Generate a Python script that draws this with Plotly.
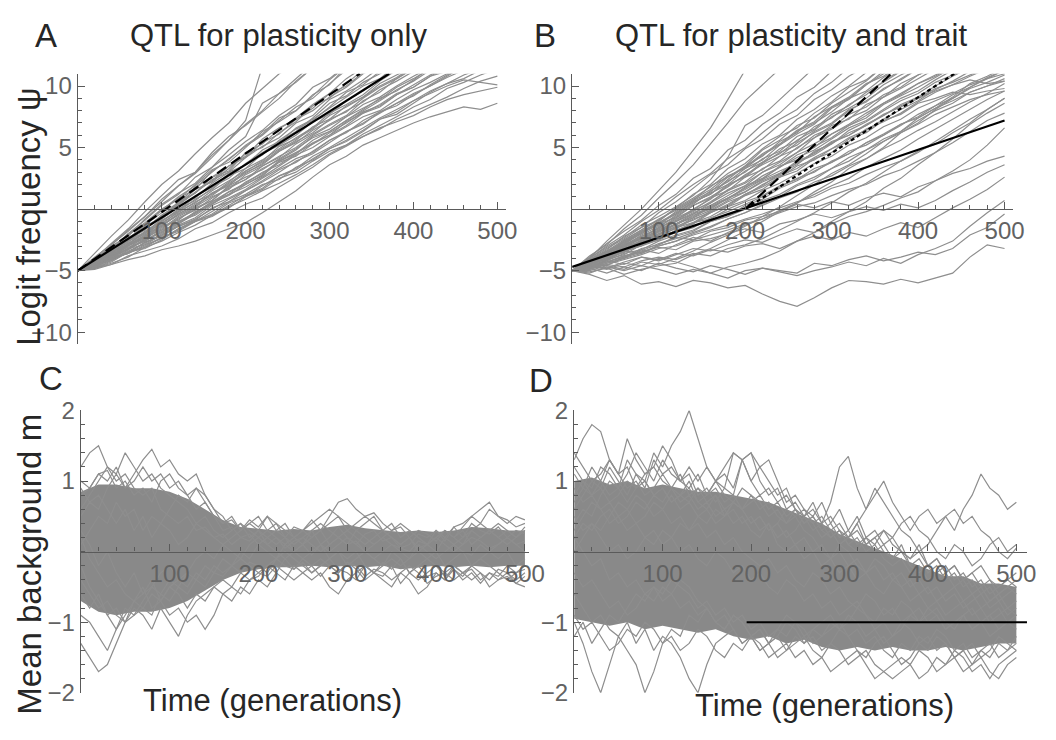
import plotly.graph_objects as go

# ---------------- time grids ----------------
T20 = list(range(0, 501, 20))
T10 = list(range(0, 501, 10))

# ---------------- Panel A: logit frequency, QTL for plasticity only (step 20) ----------------
walks_A = [
    [-5,-4.1,-3.3,-2.0,-0.9,0.3,1.2,2.6,3.4,4.8,5.9,8.6,9.4,10.6,11.8],
    [-5,-4.4,-3.2,-2.6,-1.2,-0.1,0.9,1.6,3.1,4.0,5.2,6.1,7.4,8.0,9.3,10.1,11.6],
    [-5,-4.0,-2.8,-1.6,-0.2,1.1,2.4,3.0,4.6,5.9,6.8,7.9,9.0,10.4,11.5],
    [-5,-4.6,-3.9,-3.0,-2.2,-1.0,-0.1,1.0,1.8,2.5,3.7,4.6,5.4,6.6,7.3,8.2,9.1,10.0,10.6,11.7],
    [-5,-4.3,-3.6,-2.5,-1.9,-0.8,0.2,0.9,2.1,3.0,3.6,4.8,5.5,6.3,7.4,8.6,9.2,10.3,11.0,11.8],
    [-5,-4.7,-4.1,-3.4,-2.8,-2.0,-1.2,-0.4,0.5,1.1,2.0,2.7,3.9,4.6,5.3,6.2,7.0,7.9,8.4,9.3,10.1,10.9,11.6],
    [-5,-4.5,-3.7,-3.3,-2.4,-1.6,-0.6,0.1,0.7,1.9,2.6,3.2,4.1,4.9,5.8,6.3,7.2,8.1,9.0,9.6,10.5,11.5],
    [-5,-4.8,-4.4,-3.9,-3.1,-2.6,-1.9,-1.3,-0.5,0.1,1.0,1.6,2.5,3.0,3.9,4.7,5.2,6.1,6.8,7.5,8.3,8.9,9.8,10.3,10.9,11.4],
    [-5,-4.6,-4.0,-3.6,-3.0,-2.3,-1.7,-1.0,-0.6,0.2,0.8,1.5,2.1,2.8,3.6,4.5,5.2,5.9,6.6,7.1,7.6,8.3,8.9,9.3,9.6,9.9],
    [-5,-4.8,-4.5,-4.1,-3.8,-3.3,-3.0,-2.6,-2.1,-1.6,-1.1,-0.3,0.6,1.5,2.6,3.6,4.3,5.2,5.8,6.4,7.0,7.5,7.9,8.3,8.1,8.6],
    [-5,-4.4,-3.8,-2.9,-2.3,-1.4,-0.9,0.2,1.0,1.6,2.8,3.5,4.2,5.3,6.1,6.9,7.6,8.8,9.5,10.6,11.4],
    [-5,-4.2,-3.5,-2.7,-1.5,-0.6,0.4,1.6,2.2,3.3,4.5,5.0,6.2,7.1,8.4,9.0,10.2,11.3],
    [-5,-4.5,-3.4,-2.1,-1.1,0.0,0.8,2.0,3.2,3.8,5.0,6.3,7.1,8.0,9.2,10.5,11.6],
    [-5,-4.6,-3.8,-3.1,-2.6,-1.8,-1.1,-0.3,0.6,1.4,2.1,3.0,3.6,4.5,5.4,6.0,7.1,7.8,8.5,9.4,9.9,10.8,11.5],
    [-5,-4.8,-4.2,-3.5,-3.2,-2.5,-1.6,-1.0,-0.2,0.6,1.2,2.0,2.4,3.4,4.0,4.9,5.6,6.4,7.3,7.7,8.6,9.5,10.2,10.6,11.3],
    [-5,-4.3,-3.9,-2.8,-1.9,-1.2,-0.2,0.5,1.5,2.3,3.1,3.9,5.1,5.7,6.5,7.6,8.3,9.1,10.0,10.7,11.6],
    [-5,-4.9,-4.5,-3.8,-3.4,-3.0,-2.4,-1.6,-1.1,-0.3,0.4,0.9,1.8,2.6,3.4,4.4,5.1,5.9,6.5,7.3,7.9,8.5,9.1,9.8,10.4,10.8],
    [-5,-4.4,-4.0,-3.2,-2.2,-1.7,-0.7,-0.1,0.9,1.7,2.4,3.3,4.0,4.8,5.9,6.5,7.5,8.2,8.9,9.9,10.6,11.4],
    [-5,-4.6,-3.6,-2.9,-1.8,-1.0,0.0,0.7,1.7,2.9,3.6,4.4,5.6,6.5,7.2,8.3,9.5,10.1,11.2],
    [-5,-4.1,-3.0,-2.2,-0.8,0.4,1.3,2.1,3.4,4.4,5.5,6.4,7.6,8.5,9.9,10.6,11.7],
    [-5,-4.5,-4.1,-3.5,-2.7,-2.1,-1.4,-0.8,0.0,0.8,1.5,2.3,3.2,3.8,4.7,5.6,6.3,7.0,7.8,8.6,9.2,10.1,10.9,11.5],
    [-5,-3.9,-2.9,-1.7,-0.6,0.8,1.9,3.0,4.4,5.6,6.9,8.0,9.4,10.3,11.5],
    [-5,-4.3,-3.1,-2.4,-1.3,-0.3,0.5,1.8,2.6,3.5,4.3,5.7,6.6,7.3,8.2,9.4,10.0,11.1],
    [-5,-4.7,-3.9,-3.2,-2.9,-2.1,-1.3,-0.7,0.3,0.9,1.6,2.5,3.3,4.1,4.6,5.6,6.2,7.2,7.9,8.4,9.3,10.0,10.8,11.6],
    [-5,-4.2,-3.7,-3.0,-2.1,-1.3,-0.4,0.3,1.3,2.0,2.9,3.7,4.7,5.4,6.4,7.2,8.0,8.7,9.7,10.4,11.2],
    [-5,-4.6,-4.2,-3.3,-2.5,-1.9,-1.0,-0.5,0.4,1.2,1.8,2.6,3.5,4.4,5.0,5.9,6.7,7.5,8.0,8.9,9.7,10.3,11.0,11.6],
    [-5,-3.6,-2.2,-0.9,0.6,2.0,3.1,4.5,5.8,7.0,8.6,9.8,11.0,11.8],
    [-5,-4.4,-3.3,-2.5,-1.7,-0.5,0.4,1.3,2.4,3.0,4.2,5.1,5.8,7.0,7.6,8.9,9.6,10.5,11.5],
    [-5,-4.8,-4.0,-3.6,-2.9,-2.4,-1.6,-0.9,-0.5,0.3,1.1,1.7,2.7,3.2,4.1,4.9,5.5,6.3,7.3,7.9,8.8,9.4,10.0,10.5,10.3,10.1],
    [-5,-4.5,-3.5,-2.8,-2.0,-1.1,-0.3,0.6,1.2,2.2,3.3,4.0,4.9,5.8,6.6,7.8,8.5,9.3,10.4,11.3],
    [-5,-4.2,-2.9,-1.8,-0.6,0.6,1.9,2.9,4.2,5.6,7.2,11.6],
    [-5,-4.5,-3.9,-3.2,-2.5,-1.9,-1.0,-0.3,0.6,1.2,2.2,2.9,3.9,4.5,5.6,6.3,7.2,8.0,8.8,9.7,10.4,11.3],
    [-5,-4.2,-3.4,-2.3,-1.6,-0.5,0.3,1.4,2.3,3.5,4.2,5.4,6.1,7.3,8.0,9.1,9.9,11.0,11.7],
    [-5,-4.7,-4.0,-3.6,-2.7,-2.2,-1.4,-0.9,0.1,0.6,1.5,2.2,3.0,3.9,4.5,5.4,6.3,6.9,7.9,8.6,9.4,10.0,10.7,11.3],
    [-5,-4.4,-3.6,-2.6,-2.0,-0.9,-0.2,0.8,1.6,2.7,3.3,4.5,5.2,6.0,7.1,7.7,8.8,9.6,10.5,11.4],
    [-5,-4.6,-3.5,-2.9,-2.1,-1.4,-0.4,0.4,1.1,2.1,3.0,3.6,4.7,5.5,6.2,7.3,7.9,9.0,9.9,10.6,11.5],
    [-5,-4.3,-3.8,-3.0,-2.4,-1.5,-0.8,0.0,0.7,1.8,2.4,3.5,4.3,5.0,6.0,6.8,7.5,8.5,9.1,10.0,10.8,11.5],
    [-5,-4.0,-3.2,-2.0,-1.2,-0.1,1.0,1.9,3.0,4.1,5.1,6.0,7.2,8.3,9.0,10.2,11.3],
    [-5,-4.8,-4.3,-3.5,-3.1,-2.3,-1.8,-1.0,-0.4,0.5,1.0,1.9,2.7,3.3,4.3,5.0,5.8,6.6,7.4,8.1,8.8,9.6,10.2,10.9,11.4],
    [-5,-4.5,-3.7,-2.8,-2.3,-1.3,-0.5,0.2,1.3,1.9,3.1,3.8,4.8,5.6,6.7,7.3,8.4,9.1,10.2,10.9,11.6],
    [-5,-4.1,-3.5,-2.4,-1.4,-0.7,0.6,1.3,2.6,3.1,4.6,5.3,6.5,7.4,8.5,9.4,10.6,11.5],
    [-5,-4.6,-4.1,-3.2,-2.6,-1.7,-1.2,-0.2,0.4,1.4,2.0,2.8,3.8,4.3,5.3,6.0,6.8,7.8,8.3,9.3,9.9,10.8,11.2,11.7],
]
# theory lines A (endpoints)
A_solid_t = [0, 371]
A_solid_y = [-5, 11]
A_dash_t = [0, 336]
A_dash_y = [-5, 11]

# ---------------- Panel B: logit frequency, QTL for plasticity and trait (step 20) ----------------
walks_B = [
    [-5,-5.3,-5.8,-5.4,-6.1,-5.9,-6.3,-5.8,-6.0,-6.4,-6.2,-6.9,-7.5,-7.9,-7.2,-6.4,-5.8,-5.9,-6.1,-5.7,-6.0,-5.6,-5.2,-3.9,-2.9,-3.2],
    [-5,-4.8,-5.2,-4.7,-5.0,-4.4,-4.8,-5.1,-4.6,-4.9,-5.3,-4.8,-5.0,-5.2,-4.4,-4.6,-4.1,-3.8,-4.2,-3.9,-3.5,-3.7,-3.2,-2.1,-1.5,-0.4],
    [-5,-4.6,-4.2,-4.5,-3.9,-4.1,-3.6,-3.8,-3.3,-3.5,-3.0,-2.8,-3.2,-2.6,-2.2,-2.5,-1.9,-2.2,-1.6,-1.1,-1.5,-0.7,0.1,0.8,1.6,2.6],
    [-5,-4.4,-4.6,-3.9,-3.5,-3.1,-3.3,-2.6,-2.4,-2.0,-1.6,-1.9,-1.2,-0.9,-0.4,-0.7,-0.2,0.2,-0.1,0.4,0.1,0.7,1.5,2.2,3.0,3.6],
    [-5,-4.2,-3.8,-3.4,-3.6,-2.9,-2.3,-2.5,-1.8,-1.5,-0.9,-0.6,-0.2,0.4,0.1,0.6,0.3,0.9,1.3,1.0,1.8,2.3,2.9,3.3,3.9,4.3],
    [-5,-4.5,-3.6,-2.8,-2.0,-1.1,-0.3,0.6,1.2,2.4,3.5,4.8,5.6,6.8,7.4,8.6,9.5,10.4,11.6],
    [-5,-4.0,-3.1,-2.3,-1.3,-0.6,0.2,1.1,2.4,4.2,6.8,7.6,8.9,10.2,11.5],
    [-5,-4.7,-4.1,-3.2,-2.6,-1.8,-1.0,-0.4,0.5,1.3,1.9,3.0,3.8,4.6,5.8,6.5,7.4,8.0,9.1,9.8,10.6,11.4],
    [-5,-4.3,-3.9,-3.5,-2.7,-2.2,-1.8,-1.1,-0.8,0.0,0.6,1.1,1.9,2.4,3.3,3.8,4.7,5.2,6.0,6.9,7.4,8.2,8.8,9.5,10.0,10.4],
    [-5,-4.9,-4.5,-4.7,-4.2,-3.9,-4.1,-3.6,-3.8,-3.2,-2.9,-2.4,-1.7,-1.0,-0.3,0.5,1.4,2.1,3.0,3.9,4.6,5.5,6.4,7.3,8.1,9.0],
    [-5,-4.1,-3.4,-2.5,-1.7,-0.8,-0.1,0.7,1.9,2.6,3.4,4.5,5.3,6.4,7.1,8.3,9.0,10.1,11.2],
    [-5,-4.6,-4.8,-4.3,-3.9,-4.2,-3.7,-3.2,-3.4,-2.9,-2.5,-2.7,-2.1,-1.6,-1.9,-1.2,-0.6,-0.2,0.3,0.9,1.4,2.3,3.1,4.0,5.2,6.6],
    [-5,-4.4,-3.7,-3.1,-2.4,-1.9,-1.2,-0.4,0.1,0.9,1.6,2.4,3.1,3.7,4.6,5.4,6.0,6.8,7.7,8.3,9.0,9.8,10.3,10.9,11.5],
    [-5,-4.2,-3.5,-2.6,-1.9,-1.0,0.1,0.9,1.8,2.9,3.7,4.9,5.9,6.6,7.8,8.7,9.9,10.5,11.6],
    [-5,-4.8,-4.4,-4.0,-3.3,-3.6,-2.9,-2.3,-2.6,-1.9,-1.3,-0.8,-0.1,0.5,1.2,1.9,2.5,3.4,4.1,4.8,5.7,6.5,7.3,8.1,8.9,9.6],
    [-5,-4.5,-3.9,-3.1,-2.3,-1.5,-0.5,0.4,1.5,2.2,3.3,4.0,5.2,6.1,6.9,8.2,8.9,10.1,11.0,11.7],
    [-5,-5.2,-4.7,-5.0,-4.6,-4.9,-5.3,-4.9,-5.2,-4.7,-4.4,-4.0,-3.4,-2.6,-1.9,-1.0,-0.2,0.6,1.7,2.5,3.6,4.6,5.7,6.9,7.8,8.6],
    [-5,-4.3,-3.6,-2.9,-2.2,-1.6,-0.8,-0.2,0.6,1.5,2.1,3.0,3.6,4.6,5.3,6.1,6.9,7.8,8.6,9.4,10.2,10.9,11.6],
    [-5,-4.7,-4.3,-3.8,-3.4,-2.8,-2.4,-1.9,-1.4,-0.8,-0.3,0.3,0.9,1.4,2.2,2.7,3.5,4.1,4.9,5.6,6.4,7.1,7.9,8.7,9.4,10.2],
    [-5,-4.0,-2.6,-1.3,0.0,1.5,3.0,4.8,6.6,8.9,11.3],
    [-5,-4.6,-4.0,-3.5,-2.9,-2.1,-1.6,-0.8,-0.3,0.4,1.2,1.8,2.6,3.5,4.0,4.9,5.8,6.4,7.3,8.1,8.8,9.7,10.4,11.2],
    [-5,-5.1,-4.8,-5.3,-4.9,-4.6,-4.4,-3.7,-3.2,-2.5,-1.8,-1.0,-0.2,0.5,1.4,2.2,3.3,4.1,5.0,6.2,7.0,8.1,9.0,9.9,10.6,11.3],
    [-5,-4.4,-4.1,-3.4,-3.0,-2.5,-1.9,-1.5,-0.7,-0.2,0.4,1.0,1.8,2.5,3.0,3.9,4.5,5.4,6.0,6.8,7.7,8.4,9.3,9.9,10.7,11.3],
    [-5,-4.1,-3.2,-2.4,-1.5,-0.9,0.0,0.8,1.6,2.7,3.3,4.4,5.2,6.3,7.0,7.9,9.0,9.6,10.7,11.5],
    [-5,-4.8,-4.5,-4.1,-3.7,-3.2,-3.0,-2.5,-2.1,-1.7,-1.2,-0.8,-0.3,0.2,0.5,1.1,1.6,2.0,2.7,3.2,3.9,4.6,5.4,6.3,7.2,7.8],
    [-5,-4.3,-3.8,-2.9,-2.4,-1.7,-1.0,-0.3,0.3,1.1,1.9,2.5,3.4,4.2,4.8,5.7,6.6,7.2,8.1,9.0,9.6,10.5,11.3],
    [-5,-4.6,-4.9,-4.4,-4.6,-4.0,-4.3,-4.7,-5.2,-5.6,-5.0,-4.8,-5.1,-5.4,-5.0,-4.7,-4.3,-4.6,-4.0,-4.4,-3.7,-3.2,-2.6,-1.4,-0.3,0.7],
    [-5,-4.2,-3.6,-3.0,-2.1,-1.4,-0.6,0.3,1.0,1.8,2.8,3.6,4.3,5.4,6.2,6.9,8.0,8.8,9.7,10.6,11.4],
    [-5,-4.5,-3.8,-3.3,-2.6,-2.0,-1.4,-0.9,-0.2,0.6,1.1,2.0,2.7,3.3,4.2,4.9,5.5,6.5,7.1,7.8,8.7,9.5,10.1,10.8,11.4],
    [-5,-4.0,-3.0,-2.1,-1.0,-0.1,1.0,2.0,2.9,4.1,5.0,6.2,7.3,8.1,9.4,10.3,11.5],
    [-5,-4.7,-4.2,-3.6,-3.3,-2.6,-2.1,-1.7,-1.0,-0.6,0.0,0.7,1.2,2.0,2.6,3.3,4.2,4.8,5.7,6.3,7.2,8.0,8.6,9.5,10.0,10.6],
    [-5,-4.4,-4.0,-3.3,-2.7,-2.0,-1.5,-0.7,-0.1,0.7,1.4,2.2,2.8,3.8,4.4,5.3,6.2,6.8,7.6,8.5,9.1,10.0,10.8,11.5],
    [-5,-4.6,-4.3,-3.8,-3.5,-3.0,-2.6,-2.1,-1.7,-1.3,-0.8,-0.4,0.1,0.6,1.0,1.7,2.1,2.8,3.4,3.9,4.7,5.3,6.2,7.0,8.1,9.0],
    [-5,-4.3,-3.4,-2.7,-1.8,-1.2,-0.4,0.5,1.3,2.0,3.1,3.8,4.9,5.5,6.7,7.4,8.5,9.3,10.4,11.3],
    [-5,-5.0,-4.6,-4.9,-4.3,-4.5,-4.0,-3.4,-2.7,-2.1,-1.4,-0.6,0.2,1.1,2.0,2.9,3.6,4.5,5.5,6.3,7.4,8.2,9.1,10.2,10.8,11.5],
    [-5,-3.8,-2.9,-1.6,-0.5,0.9,2.2,3.6,5.3,7.0,8.8,10.1,11.4],
    [-5,-4.5,-3.9,-3.0,-2.4,-1.5,-0.9,0.0,0.8,1.9,2.7,3.8,4.5,5.6,6.4,7.5,8.2,9.0,10.1,10.9,11.6],
    [-5,-4.2,-3.3,-2.2,-1.5,-0.3,0.6,1.7,2.8,3.6,4.9,5.7,6.9,7.6,8.9,9.7,10.8,11.6],
    [-5,-4.8,-4.1,-3.7,-2.9,-2.5,-1.7,-1.2,-0.3,0.3,1.2,1.9,2.9,3.6,4.7,5.3,6.4,7.1,8.0,8.8,9.4,10.3,10.9,11.6],
    [-5,-4.4,-3.5,-2.9,-1.9,-1.3,-0.2,0.7,1.4,2.6,3.5,4.3,5.5,6.2,7.5,8.3,9.1,10.2,10.8,11.7],
    [-5,-4.6,-4.2,-3.4,-3.0,-2.2,-1.9,-1.1,-0.6,0.2,0.7,1.5,2.1,2.9,3.7,4.3,5.2,5.8,6.7,7.3,8.2,8.8,9.4,10.1,10.6,11.0],
    [-5,-4.1,-3.6,-2.7,-2.0,-1.2,-0.7,0.3,0.9,2.0,2.6,3.7,4.6,5.2,6.3,7.0,8.1,8.7,9.8,10.5,11.4],
    [-5,-4.7,-3.9,-3.5,-2.6,-2.1,-1.2,-0.7,0.2,0.8,1.8,2.4,3.5,4.0,5.1,5.8,6.8,7.4,8.5,9.2,9.9,10.7,11.5],
    [-5,-4.3,-3.8,-3.1,-2.6,-1.8,-1.3,-0.5,0.0,0.9,1.4,2.3,2.9,3.9,4.5,5.5,6.0,6.9,7.6,8.4,9.0,9.6,10.1,10.5,10.2,10.4],
    [-5,-3.9,-2.8,-1.8,-0.9,0.3,1.2,2.5,3.3,4.8,5.6,6.9,7.8,9.1,9.9,11.2],
    [-5,-4.5,-4.0,-3.2,-2.8,-2.3,-1.5,-1.1,-0.2,0.2,1.1,1.6,2.6,3.1,4.1,4.6,5.7,6.2,7.2,7.7,8.6,9.0,9.5,9.3,9.6,9.8],
    [-5,-4.6,-3.7,-3.1,-2.2,-1.6,-0.7,-0.1,0.9,1.5,2.6,3.2,4.3,4.9,6.0,6.6,7.7,8.3,9.3,9.9,10.9,11.5],
    [-5,-4.2,-3.5,-2.8,-1.8,-1.1,-0.4,0.6,1.2,2.3,3.0,4.1,4.7,5.9,6.5,7.7,8.4,9.5,10.3,11.2],
    [-5,-4.8,-4.3,-3.9,-3.2,-2.9,-2.2,-1.8,-1.0,-0.6,0.3,0.8,1.7,2.3,3.1,3.8,4.5,5.4,6.1,6.9,7.5,8.4,9.0,9.8,10.3,10.9],
    [-5,-4.4,-3.7,-2.6,-1.7,-0.9,0.1,1.2,2.0,3.3,4.1,5.3,6.0,7.3,8.1,9.2,10.0,11.1],
    [-5,-4.9,-4.4,-4.0,-3.6,-3.0,-2.6,-2.0,-1.5,-0.8,-0.3,0.4,1.0,1.9,2.4,3.3,3.9,4.8,5.5,6.2,6.9,7.7,8.3,8.9,9.3,9.6],
    [-5,-4.3,-3.9,-3.0,-2.7,-1.8,-1.2,-0.6,0.3,0.9,1.7,2.7,3.4,4.4,5.0,6.1,6.8,7.6,8.6,9.3,10.2,10.8,11.6],
    [-5,-4.6,-3.8,-3.3,-2.5,-1.7,-1.0,-0.1,0.5,1.6,2.2,3.3,3.9,5.0,5.8,6.8,7.3,8.5,9.1,10.2,10.9,11.6],
]
B_solid_t = [0, 500]
B_solid_y = [-4.7, 7.2]
B_dash_t = [200, 369]
B_dash_y = [0, 11]
B_dot_t = [200, 442]
B_dot_y = [0, 11]

# ---------------- Panel C: mean background m ----------------
C_core_hi = [0.85,0.95,0.95,0.9,0.9,0.85,0.75,0.6,0.45,0.35,0.32,0.3,0.32,0.3,0.35,0.38,0.33,0.3,0.28,0.3,0.28,0.3,0.35,0.33,0.3,0.3]
C_core_lo = [-0.7,-0.85,-0.9,-0.85,-0.85,-0.8,-0.7,-0.55,-0.4,-0.3,-0.25,-0.22,-0.22,-0.2,-0.22,-0.2,-0.22,-0.2,-0.25,-0.22,-0.2,-0.22,-0.2,-0.22,-0.2,-0.2]
walks_C = [
    [1.2,1.4,1.5,1.2,1.0,1.1,0.9,0.8,0.9,0.6,0.5,0.4,0.5,0.3,0.35,0.2,0.25,0.1,0.2,0.15,0.3,0.1,0.2,0.05,0.15,0.2,0.3,0.1,0.2,0.35,0.2,0.1,0.25,0.3,0.15,0.2,0.05,0.1,0.25,0.2,0.3,0.15,0.35,0.2,0.4,0.3,0.25,0.35,0.2,0.3,0.25],
    [0.8,0.9,1.1,1.0,1.2,0.9,1.1,1.3,1.45,1.2,1.3,1.1,1.0,1.1,0.8,0.6,0.4,0.45,0.3,0.45,0.35,0.5,0.3,0.4,0.2,0.3,0.45,0.3,0.5,0.7,0.75,0.6,0.5,0.55,0.4,0.3,0.35,0.2,0.3,0.25,0.15,0.3,0.2,0.35,0.5,0.6,0.7,0.5,0.45,0.35,0.4],
    [-1.3,-1.5,-1.7,-1.6,-1.3,-1.0,-0.9,-0.8,-0.9,-0.6,-0.7,-0.5,-0.6,-0.4,-0.5,-0.3,-0.35,-0.2,-0.3,-0.15,-0.2,-0.3,-0.1,-0.2,-0.25,-0.1,-0.2,-0.35,-0.2,-0.3,-0.15,-0.25,-0.4,-0.3,-0.35,-0.2,-0.45,-0.3,-0.2,-0.35,-0.3,-0.4,-0.25,-0.35,-0.2,-0.3,-0.4,-0.25,-0.3,-0.45,-0.35],
    [-0.4,-0.6,-0.8,-0.7,-0.9,-1.0,-0.8,-0.9,-1.1,-0.8,-1.0,-1.2,-0.9,-0.7,-0.6,-0.5,-0.4,-0.5,-0.3,-0.4,-0.35,-0.2,-0.3,-0.1,-0.25,-0.15,-0.3,-0.2,-0.1,-0.25,-0.3,-0.4,-0.2,-0.3,-0.15,-0.25,-0.1,-0.3,-0.4,-0.3,-0.2,-0.35,-0.25,-0.4,-0.3,-0.45,-0.3,-0.4,-0.35,-0.45,-0.5],
    [0.2,-0.1,-0.3,-0.5,-0.4,-0.6,-0.7,-0.5,-0.8,-0.7,-0.9,-0.8,-1.0,-0.9,-1.1,-0.9,-0.6,-0.5,-0.6,-0.4,-0.3,-0.35,-0.2,-0.3,-0.4,-0.3,-0.2,-0.1,-0.2,-0.3,-0.15,-0.2,-0.35,-0.25,-0.3,-0.4,-0.3,-0.2,-0.3,-0.45,-0.35,-0.3,-0.2,-0.3,-0.25,-0.4,-0.3,-0.35,-0.2,-0.3,-0.25],
    [0.6,0.8,1.0,1.2,1.1,1.4,1.2,1.0,1.1,0.9,0.8,0.7,0.6,0.4,0.5,0.3,0.2,0.3,0.4,0.2,0.3,0.5,0.4,0.3,0.2,0.1,0.2,0.3,0.4,0.5,0.3,0.2,0.1,0.2,0.3,0.2,0.1,0.2,0.05,0.1,0.2,0.3,0.2,0.3,0.1,0.2,0.3,0.4,0.3,0.2,0.3],
    [1.0,0.9,1.1,1.15,0.9,1.0,0.8,0.9,0.7,1.0,1.1,0.9,0.8,0.9,0.7,0.5,0.3,0.35,0.2,0.25,0.1,0.2,0.3,0.2,0.1,0.2,0.1,0.0,0.1,0.2,0.1,0.15,0.0,0.1,0.2,0.1,0.05,0.0,0.15,0.1,0.2,0.1,0.0,0.1,0.2,0.15,0.05,0.1,0.2,0.1,0.15],
    [-0.9,-1.0,-1.2,-1.4,-1.1,-0.8,-0.9,-0.7,-0.5,-0.6,-0.4,-0.5,-0.3,-0.4,-0.2,-0.3,-0.1,-0.2,0.0,-0.1,0.1,0.0,-0.1,0.1,0.0,-0.1,0.0,0.1,-0.1,0.0,-0.2,-0.1,0.0,-0.1,-0.2,0.0,-0.1,-0.3,-0.2,-0.1,0.0,-0.2,-0.1,0.0,-0.2,-0.1,0.0,-0.1,0.0,-0.2,-0.1],
    [0.3,0.1,-0.2,0.0,-0.3,-0.5,-0.3,-0.6,-0.4,-0.7,-0.5,-0.6,-0.8,-0.6,-0.7,-0.5,-0.6,-0.7,-0.5,-0.6,-0.4,-0.5,-0.3,-0.4,-0.2,-0.3,-0.4,-0.3,-0.5,-0.6,-0.4,-0.3,-0.2,-0.3,-0.4,-0.5,-0.3,-0.4,-0.6,-0.5,-0.3,-0.4,-0.2,-0.3,-0.4,-0.3,-0.5,-0.4,-0.3,-0.4,-0.3],
    [0.5,0.7,0.6,0.9,1.1,0.9,1.0,1.2,1.0,1.1,0.9,1.0,0.8,0.6,0.7,0.5,0.4,0.5,0.3,0.4,0.5,0.3,0.4,0.2,0.35,0.3,0.4,0.5,0.6,0.5,0.4,0.3,0.4,0.5,0.3,0.4,0.2,0.3,0.2,0.1,0.3,0.2,0.35,0.4,0.5,0.4,0.6,0.5,0.4,0.5,0.45],
    [-0.2,-0.5,-0.7,-0.9,-0.8,-1.0,-0.7,-0.6,-0.5,-0.3,-0.2,-0.4,-0.3,-0.1,0.0,-0.1,0.1,0.0,-0.1,0.1,0.2,0.1,0.0,-0.1,0.0,0.1,-0.05,0.1,0.0,0.1,0.2,0.1,0.0,-0.1,0.0,0.1,0.0,-0.1,0.1,0.0,-0.1,0.0,0.1,0.0,-0.05,0.1,0.0,0.1,0.2,0.1,0.0],
    [0.1,0.3,0.5,0.4,0.7,0.5,0.6,0.3,0.5,0.4,0.6,0.8,0.7,0.9,0.8,0.6,0.5,0.3,0.4,0.3,0.2,0.3,0.2,0.1,0.2,0.3,0.2,0.3,0.1,0.2,0.1,0.3,0.2,0.1,0.2,0.3,0.4,0.3,0.2,0.1,0.2,0.3,0.2,0.1,0.3,0.2,0.3,0.2,0.1,0.2,0.3],
    [-0.6,-0.8,-0.6,-0.9,-1.1,-0.9,-0.7,-0.8,-0.6,-0.7,-0.5,-0.4,-0.5,-0.3,-0.4,-0.2,-0.3,-0.2,-0.1,-0.2,-0.3,-0.2,-0.1,0.0,-0.1,-0.2,-0.3,-0.2,-0.1,0.0,-0.1,0.0,-0.2,-0.3,-0.2,-0.1,-0.2,-0.1,0.0,-0.1,-0.2,-0.3,-0.4,-0.3,-0.2,-0.1,-0.2,-0.3,-0.4,-0.3,-0.2],
    [0.9,0.7,0.8,0.6,0.4,0.6,0.3,0.5,0.2,0.4,0.3,0.1,0.2,0.4,0.3,0.2,0.1,0.2,0.3,0.4,0.3,0.2,0.1,0.2,0.0,0.1,0.3,0.4,0.3,0.2,0.3,0.4,0.5,0.4,0.3,0.2,0.1,0.2,0.0,0.1,0.0,0.2,0.1,0.2,0.3,0.4,0.3,0.2,0.3,0.2,0.35],
]

# ---------------- Panel D: mean background m ----------------
D_core_hi = [1.0,1.05,0.95,1.0,0.9,0.95,0.9,0.85,0.85,0.8,0.75,0.7,0.6,0.5,0.4,0.25,0.15,0.05,-0.05,-0.15,-0.25,-0.35,-0.35,-0.45,-0.45,-0.5]
D_core_lo = [-0.95,-1.0,-1.05,-1.0,-1.1,-1.05,-1.1,-1.15,-1.1,-1.2,-1.25,-1.2,-1.3,-1.25,-1.35,-1.4,-1.35,-1.4,-1.35,-1.4,-1.4,-1.35,-1.4,-1.35,-1.3,-1.3]
walks_D = [
    [1.3,1.6,1.8,1.7,1.3,1.1,1.2,0.9,1.0,0.8,0.9,0.7,0.8,1.0,0.7,0.6,0.8,0.5,0.6,0.4,0.5,0.3,0.4,0.2,0.3,0.1,0.2,0.0,0.1,-0.1,0.0,-0.2,-0.1,-0.3,-0.2,-0.4,-0.3,-0.5,-0.4,-0.6,-0.5,-0.7,-0.6,-0.5,-0.7,-0.6,-0.8,-0.7,-0.6,-0.8,-0.7],
    [0.8,1.0,0.9,1.2,1.1,0.9,1.3,1.1,1.0,1.4,1.2,1.5,1.7,2.0,1.6,1.2,1.0,1.1,0.9,1.3,1.4,1.2,1.0,0.8,0.9,0.6,0.5,0.7,0.4,0.5,0.3,0.2,0.4,0.1,0.2,0.0,-0.1,0.1,-0.2,-0.1,-0.3,-0.2,-0.4,-0.3,-0.5,-0.4,-0.6,-0.5,-0.7,-0.6,-0.5],
    [0.4,0.6,0.5,0.8,1.0,0.9,1.1,1.4,1.2,1.0,1.3,1.1,1.0,1.2,1.0,1.2,1.0,0.9,0.8,1.3,1.4,1.0,0.8,0.9,0.6,0.7,0.5,0.6,0.4,0.7,1.2,1.35,0.9,0.6,0.8,1.0,0.7,0.5,0.3,0.5,0.6,0.4,0.5,0.3,0.6,0.8,1.1,0.9,0.8,0.6,0.7],
    [-1.0,-1.3,-1.7,-2.0,-1.6,-1.2,-1.4,-1.6,-2.0,-1.7,-1.3,-1.1,-1.2,-0.9,-1.0,-0.8,-1.0,-1.1,-0.9,-1.0,-1.2,-1.1,-1.3,-1.2,-1.0,-1.1,-1.3,-1.2,-1.4,-1.3,-1.1,-1.2,-1.4,-1.5,-1.3,-1.2,-1.4,-1.6,-1.5,-1.3,-1.4,-1.2,-1.3,-1.5,-1.4,-1.3,-1.5,-1.4,-1.2,-1.3,-1.4],
    [-0.6,-0.8,-1.0,-0.9,-1.1,-1.2,-1.0,-1.3,-1.1,-1.4,-1.2,-1.3,-1.5,-1.8,-2.0,-1.6,-1.3,-1.2,-1.1,-1.3,-1.2,-1.4,-1.3,-1.1,-1.2,-1.0,-1.1,-1.3,-1.2,-1.1,-1.0,-1.2,-1.1,-1.3,-1.2,-1.4,-1.5,-1.3,-1.4,-1.2,-1.3,-1.1,-1.2,-1.4,-1.3,-1.5,-1.4,-1.3,-1.5,-1.4,-1.3],
    [0.2,0.0,-0.2,-0.1,-0.4,-0.3,-0.5,-0.4,-0.6,-0.5,-0.7,-0.6,-0.8,-0.7,-0.9,-0.8,-1.0,-1.1,-0.9,-1.0,-1.2,-1.1,-1.3,-1.2,-1.4,-1.3,-1.2,-1.4,-1.5,-1.3,-1.4,-1.6,-1.5,-1.4,-1.6,-1.7,-1.8,-1.7,-1.6,-1.8,-1.7,-1.5,-1.6,-1.4,-1.5,-1.7,-1.6,-1.8,-1.6,-1.5,-1.4],
    [1.1,0.9,1.2,1.0,1.3,1.1,0.9,1.0,0.8,0.9,1.1,0.9,0.7,0.8,0.6,0.7,0.5,0.6,0.4,0.5,0.3,0.2,0.4,0.1,0.0,0.1,-0.1,0.0,-0.2,-0.1,-0.3,-0.2,-0.4,-0.3,-0.5,-0.6,-0.4,-0.5,-0.7,-0.6,-0.8,-0.7,-0.9,-0.8,-0.7,-0.9,-0.8,-1.0,-0.9,-0.8,-0.9],
    [-1.2,-1.0,-1.3,-1.1,-0.9,-1.0,-0.8,-0.6,-0.7,-0.5,-0.6,-0.4,-0.5,-0.6,-0.8,-0.7,-0.9,-0.8,-1.0,-0.9,-1.1,-1.0,-1.2,-1.1,-0.9,-1.0,-1.2,-1.1,-1.0,-0.9,-1.1,-1.0,-0.8,-0.9,-1.1,-1.0,-1.2,-1.1,-0.9,-1.0,-0.8,-0.9,-1.1,-1.0,-0.9,-1.1,-1.0,-1.2,-1.1,-1.0,-0.9],
    [0.6,0.8,1.0,0.9,1.2,1.0,0.8,1.1,0.9,1.3,1.1,1.2,1.0,0.9,1.1,0.8,1.0,1.2,1.4,1.3,1.0,1.2,1.3,1.0,0.7,0.8,0.6,0.5,0.7,0.4,0.6,0.3,0.5,0.2,0.3,0.1,0.2,0.0,-0.1,0.1,-0.2,-0.1,-0.3,-0.2,-0.4,-0.3,-0.5,-0.4,-0.6,-0.5,-0.4],
    [0.0,0.2,0.4,0.3,0.5,0.7,0.6,0.8,0.7,0.5,0.6,0.4,0.5,0.3,0.4,0.2,0.3,0.1,0.2,0.0,-0.1,-0.2,-0.1,-0.3,-0.2,-0.4,-0.5,-0.3,-0.4,-0.6,-0.5,-0.7,-0.8,-0.6,-0.7,-0.9,-0.8,-1.0,-0.9,-0.8,-1.0,-0.9,-1.1,-1.0,-0.9,-1.1,-1.0,-0.9,-1.1,-1.0,-1.1],
    [0.9,0.7,0.8,0.6,0.7,0.5,0.6,0.4,0.5,0.7,0.6,0.8,0.6,0.7,0.5,0.6,0.4,0.5,0.7,0.6,0.4,0.5,0.3,0.4,0.2,0.3,0.5,0.4,0.2,0.3,0.1,0.2,0.4,0.6,0.9,0.7,0.5,0.3,0.2,0.0,0.1,0.3,0.5,0.6,0.4,0.5,0.3,0.2,0.0,-0.1,0.05],
    [-0.3,-0.5,-0.4,-0.6,-0.8,-0.7,-0.9,-0.8,-0.6,-0.7,-0.5,-0.6,-0.4,-0.5,-0.7,-0.8,-1.0,-0.9,-1.1,-1.3,-1.2,-1.4,-1.3,-1.5,-1.4,-1.2,-1.3,-1.1,-1.2,-1.0,-1.1,-0.9,-1.0,-1.2,-1.1,-1.3,-1.2,-1.0,-1.1,-1.3,-1.2,-1.4,-1.3,-1.5,-1.7,-1.6,-1.4,-1.5,-1.3,-1.4,-1.2],
    [0.5,0.3,0.4,0.2,0.0,0.1,-0.1,0.0,0.2,0.1,0.3,0.2,0.0,0.1,-0.1,-0.2,0.0,-0.1,-0.3,-0.2,-0.4,-0.3,-0.5,-0.6,-0.4,-0.5,-0.7,-0.6,-0.8,-0.7,-0.9,-0.8,-0.7,-0.9,-1.0,-0.8,-0.9,-0.7,-0.8,-1.0,-0.9,-0.8,-1.0,-1.1,-0.9,-0.8,-1.0,-0.9,-0.8,-1.0,-0.9],
    [1.4,1.2,1.0,1.1,1.3,1.1,1.6,1.3,1.1,1.2,1.5,1.3,1.0,1.1,0.8,0.9,0.7,0.9,1.4,1.3,1.0,0.8,0.9,0.7,0.8,0.6,0.4,0.5,0.3,0.2,0.3,0.1,0.0,0.2,0.1,0.3,0.2,0.4,0.5,0.3,0.2,0.0,-0.1,0.1,0.0,-0.2,-0.1,0.1,0.2,0.0,0.1],
    [-0.9,-1.1,-1.0,-1.2,-1.4,-1.3,-1.1,-1.2,-1.0,-1.1,-1.3,-1.2,-1.4,-1.3,-1.1,-1.2,-1.4,-1.5,-1.3,-1.4,-1.2,-1.3,-1.5,-1.4,-1.3,-1.5,-1.4,-1.6,-1.5,-1.7,-1.6,-1.5,-1.4,-1.6,-1.8,-1.7,-1.6,-1.5,-1.6,-1.4,-1.5,-1.7,-1.6,-1.5,-1.4,-1.6,-1.5,-1.7,-1.8,-1.6,-1.5],
    [0.3,0.5,0.7,0.6,0.4,0.5,0.3,0.4,0.2,0.3,0.1,0.2,0.4,0.3,0.5,0.4,0.6,0.5,0.7,0.6,0.4,0.5,0.3,0.4,0.6,0.5,0.3,0.2,0.0,-0.1,0.1,0.0,-0.2,-0.3,-0.1,-0.2,-0.4,-0.3,-0.5,-0.4,-0.6,-0.5,-0.7,-0.6,-0.8,-0.7,-0.6,-0.8,-0.7,-0.9,-0.8],
    [0.7,0.9,0.8,1.0,0.8,0.9,0.7,0.9,1.0,0.8,0.9,0.7,0.8,0.9,0.7,0.8,0.9,0.7,0.8,0.6,0.7,0.8,0.6,0.7,0.5,0.6,0.4,0.5,0.3,0.4,0.2,0.3,0.1,0.2,0.0,0.1,-0.1,0.0,-0.2,-0.3,-0.2,-0.4,-0.3,-0.5,-0.4,-0.6,-0.5,-0.7,-0.6,-0.5,-0.6],
    [0.2,0.4,0.3,0.5,0.6,0.4,0.5,0.7,0.6,0.8,0.7,0.9,0.8,0.7,0.9,0.8,1.0,0.8,0.7,0.6,0.8,0.7,0.5,0.6,0.4,0.5,0.6,0.4,0.5,0.3,0.4,0.2,0.3,0.1,0.2,0.3,0.1,0.0,-0.1,0.0,-0.2,-0.1,-0.3,-0.2,-0.4,-0.3,-0.2,-0.4,-0.5,-0.4,-0.3],
    [1.2,1.0,0.8,0.9,0.7,0.8,1.0,0.9,1.1,1.2,1.0,0.9,1.1,0.8,0.9,0.7,0.8,0.6,0.7,0.9,0.8,0.6,0.7,0.5,0.4,0.6,0.5,0.3,0.4,0.2,0.3,0.1,0.2,0.0,0.1,-0.1,-0.2,-0.1,-0.3,-0.2,-0.4,-0.3,-0.2,-0.4,-0.3,-0.5,-0.4,-0.6,-0.5,-0.4,-0.5],
]
D_line_t = [195, 513]
D_line_y = [-1, -1]

# tick labels
x_ticks = [100, 200, 300, 400, 500]
logit_ticks = [-10, -5, 5, 10]
logit_ticktext = ["\u221210", "\u22125", "5", "10"]
m_ticks = [-2, -1, 1, 2]
m_ticktext = ["\u22122", "\u22121", "1", "2"]

# ---------------- styling ----------------
W, H = 1056, 740
GRAY = "#8e8e8e"
BAND = "#898989"
AX = "#5a5a5a"
TICKC = "#626262"
TXT = "#262626"
FONT = "Liberation Sans, Arial, Helvetica, sans-serif"

fig = go.Figure()


def add_walks(series, grid, xa, ya):
    for v in series:
        fig.add_trace(go.Scatter(x=grid[:len(v)], y=v, mode="lines",
                                 line=dict(color=GRAY, width=1.2),
                                 xaxis=xa, yaxis=ya, hoverinfo="skip",
                                 showlegend=False))


def add_band(hi, lo, grid, xa, ya):
    g = grid[:len(hi)]
    fig.add_trace(go.Scatter(x=g + g[::-1], y=hi + lo[::-1], mode="lines",
                             fill="toself", fillcolor=BAND,
                             line=dict(width=0, color=BAND),
                             xaxis=xa, yaxis=ya, hoverinfo="skip",
                             showlegend=False))


def add_line(t, y, xa, ya, dash="solid", width=2.2):
    fig.add_trace(go.Scatter(x=t, y=y, mode="lines",
                             line=dict(color="black", width=width, dash=dash),
                             xaxis=xa, yaxis=ya, hoverinfo="skip",
                             showlegend=False))


# Panel A
add_walks(walks_A, T20, "x", "y")
add_line(A_dash_t, A_dash_y, "x", "y", dash="11px,6px")
add_line(A_solid_t, A_solid_y, "x", "y")
# Panel B
add_walks(walks_B, T20, "x2", "y2")
add_line(B_dash_t, B_dash_y, "x2", "y2", dash="11px,6px")
add_line(B_dot_t, B_dot_y, "x2", "y2", dash="4px,3px")
add_line(B_solid_t, B_solid_y, "x2", "y2")
# Panel C
add_band(C_core_hi, C_core_lo, T20, "x3", "y3")
add_walks(walks_C, T10, "x3", "y3")
# Panel D
add_band(D_core_hi, D_core_lo, T20, "x4", "y4")
add_walks(walks_D, T10, "x4", "y4")
add_line(D_line_t, D_line_y, "x4", "y4", width=2)


def px_x(p):
    return p / W


def px_y(p):
    return 1 - p / H


def xaxis_cfg(left, right, rng, pos):
    return dict(domain=[px_x(left), px_x(right)], range=rng, anchor="free",
                position=pos, showgrid=False, zeroline=False, showline=True,
                linecolor=AX, linewidth=1.4, ticks="inside", ticklen=7,
                tickwidth=1.3, tickcolor=AX, tickmode="array",
                tickvals=x_ticks, ticktext=[str(v) for v in x_ticks],
                tickfont=dict(size=24, color=TICKC, family=FONT),
                minor=dict(ticks="inside", ticklen=4, tickwidth=1.1,
                           tickcolor=AX, tick0=0, dtick=20, showgrid=False),
                layer="above traces", fixedrange=True)


def yaxis_cfg(top, bottom, rng, anchor, vals, text, mdt):
    return dict(domain=[px_y(bottom), px_y(top)], range=rng, anchor=anchor,
                showgrid=False, zeroline=False, showline=True,
                linecolor=AX, linewidth=1.4, ticks="inside", ticklen=7,
                tickwidth=1.3, tickcolor=AX, tickmode="array",
                tickvals=vals, ticktext=text,
                tickfont=dict(size=24, color=TICKC, family=FONT),
                minor=dict(ticks="inside", ticklen=4, tickwidth=1.1,
                           tickcolor=AX, tick0=0, dtick=mdt, showgrid=False),
                layer="above traces", fixedrange=True)


# pixel geometry
topAB, botAB = 62, 343      # y = 11 .. -11
topCD, botCD = 411.5, 704.5  # y = 2 .. -2
zeroAB = px_y((topAB + botAB) / 2)
zeroCD = px_y((topCD + botCD) / 2)

fig.update_layout(
    width=W, height=H, margin=dict(l=0, r=0, t=0, b=0),
    paper_bgcolor="white", plot_bgcolor="rgba(0,0,0,0)",
    showlegend=False, hovermode=False,
    font=dict(family=FONT, color=TXT),
    xaxis=xaxis_cfg(79, 79 + 510 * 0.852, [0, 510], zeroAB),
    yaxis=yaxis_cfg(topAB, botAB, [-11, 11], "x", logit_ticks, logit_ticktext, 1),
    xaxis2=xaxis_cfg(581, 581 + 510 * 0.878, [0, 510], zeroAB),
    yaxis2=yaxis_cfg(topAB, botAB, [-11, 11], "x2", logit_ticks, logit_ticktext, 1),
    xaxis3=xaxis_cfg(82, 82 + 505 * 0.902, [0, 505], zeroCD),
    yaxis3=yaxis_cfg(topCD, botCD, [-2, 2], "x3", m_ticks, m_ticktext, 0.2),
    xaxis4=xaxis_cfg(583, 583 + 512 * 0.898, [0, 512], zeroCD),
    yaxis4=yaxis_cfg(topCD, botCD, [-2, 2], "x4", m_ticks, m_ticktext, 0.2),
)

annots = [
    ("A", 47, 22, 33, 0),
    ("QTL for plasticity only", 283, 22, 31, 0),
    ("B", 553, 22, 33, 0),
    ("QTL for plasticity and trait", 803, 22, 31, 0),
    ("C", 52, 378, 33, 0),
    ("D", 549, 380, 33, 0),
    ("Time (generations)", 277, 713, 31, 0),
    ("Time (generations)", 837, 718, 31, 0),
    ("Logit frequency \u03c8", 29, 211, 33, -90),
    ("Mean background m", 30, 571, 33, -90),
]
for text, x, y, size, ang in annots:
    fig.add_annotation(text=text, x=px_x(x), y=px_y(y), xref="paper", yref="paper",
                       xanchor="center", yanchor="middle", showarrow=False,
                       textangle=ang, font=dict(size=size, color=TXT, family=FONT))

fig.write_html("out.html")
